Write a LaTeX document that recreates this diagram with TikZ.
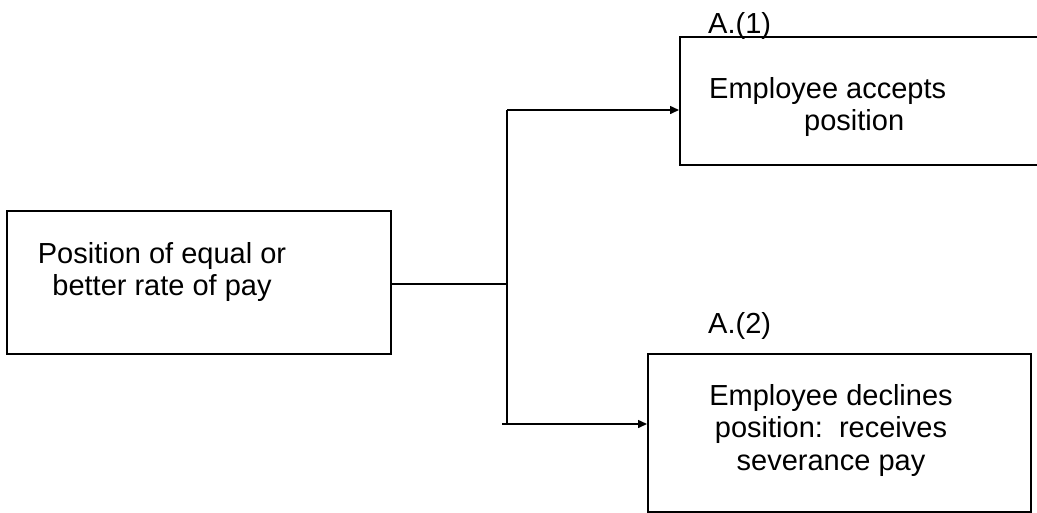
\documentclass[tikz,border=0pt]{standalone}
\usepackage{fontspec}
\setmainfont{Liberation Sans}
\usetikzlibrary{arrows.meta}
\begin{document}
\begin{tikzpicture}[x=1pt,y=-1pt,
  box/.style={draw, line width=1.5pt, inner sep=0pt},
  lbl/.style={font=\fontsize{29}{32.5}\selectfont, inner sep=0pt, align=center},
  conn/.style={line width=1.5pt},
  arr/.style={conn, -{Triangle[length=9pt,width=8pt]}}]
\useasboundingbox (0,0) rectangle (1037,512);
% boxes
\node[box, minimum width=384pt, minimum height=143pt] (src) at (199,282.5) {};
\node[box, minimum width=370pt, minimum height=128pt, anchor=north west] (acc) at (679,36) {};
\node[box, minimum width=383pt, minimum height=158pt, anchor=north west] (dec) at (647,353) {};
% texts
\node[lbl] (srct) at (162,272) {Position of equal or\\better rate of pay};
\node[lbl, align=left, anchor=west] (acct) at (709,107) {Employee accepts\\\hspace*{95pt}position};
\node[lbl] (dect) at (831,430) {Employee declines\\position:\ \ receives\\severance pay};
\node[lbl, anchor=base west] (a1) at (708,33) {A.(1)};
\node[lbl, anchor=base west] (a2) at (708,333) {A.(2)};
% connectors
\coordinate (j) at (507,284);
\coordinate (jt) at (507,110);
\coordinate (jb) at (507,424);
\coordinate (jbl) at (502,424);
\draw[conn] (src.east |- j) -- (j);
\draw[conn] (jt) -- (jb);
\draw[arr] (jt) -- (acc.west |- jt);
\draw[arr] (jbl) -- (dec.west |- jbl);
\end{tikzpicture}
\end{document}
